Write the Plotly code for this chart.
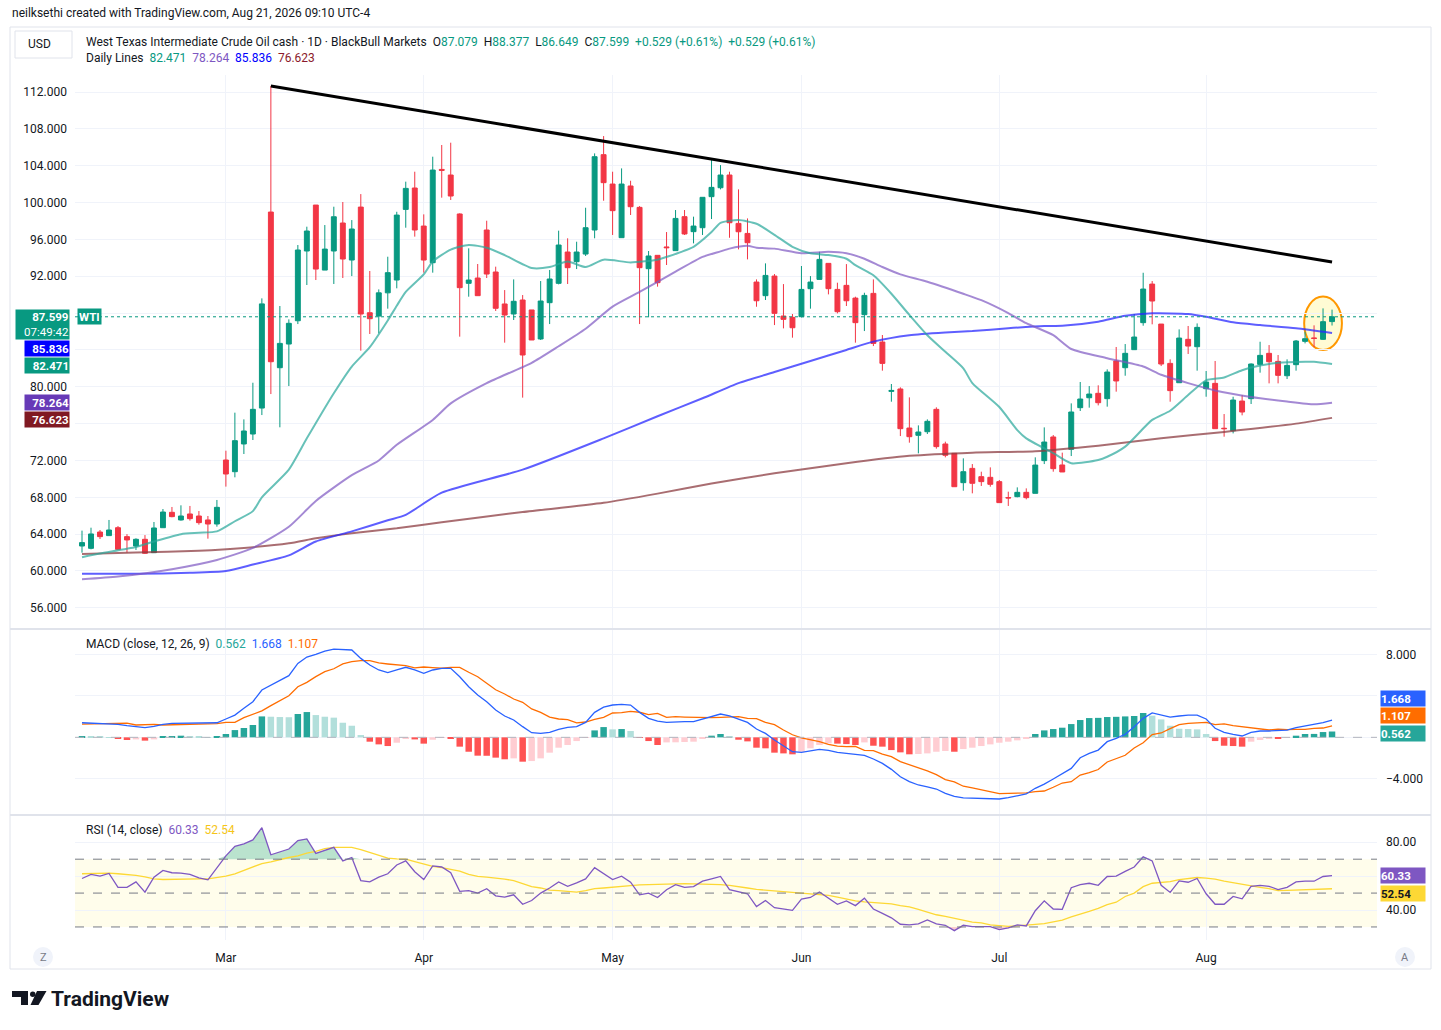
import pandas as pd
import plotly.graph_objects as go

W, H = 1441, 1030
FONT = "Roboto, 'Noto Sans', sans-serif"
TXT = "#131722"
GREEN = "#089981"
RED = "#F23645"
GRID = "#F0F3FA"

# ---------------- data ----------------
all_days = pd.bdate_range("2026-02-06", "2026-08-21")
holidays = [pd.Timestamp("2026-04-03")]
dates = [d for d in all_days if d not in holidays]
bar_idx = list(range(len(dates)))

opens = [62.71, 62.46, 64.23, 63.84, 64.70, 63.73, 62.71, 63.44, 61.99, 64.70,
         66.37, 65.54, 66.19, 65.97, 65.54, 65.10, 72.05, 70.78, 73.79, 74.87,
         77.69, 98.97, 82.07, 84.64, 87.17, 94.74, 99.73, 92.67, 94.74, 97.78,
         93.76, 99.51, 88.04, 87.68, 90.20, 91.59, 99.26, 101.58, 97.45, 93.47,
         103.60, 102.99, 98.76, 91.23, 91.81, 97.02, 92.46, 88.99, 87.90, 89.42,
         88.34, 85.19, 89.13, 91.23, 94.63, 93.58, 94.41, 97.02, 105.20, 102.01,
         96.19, 101.80, 99.48, 92.82, 94.27, 95.18, 94.78, 98.47, 96.84, 97.27,
         100.64, 101.61, 102.99, 97.74, 96.65, 91.37, 89.89, 92.02, 87.68, 87.54,
         87.61, 90.65, 91.66, 93.40, 90.57, 91.01, 89.63, 87.83, 90.14, 84.86,
         79.50, 79.76, 75.52, 74.73, 75.12, 77.55, 73.79, 72.77, 69.59, 71.14,
         70.24, 70.17, 69.70, 67.97, 68.07, 68.54, 68.43, 71.98, 74.55, 71.51,
         73.21, 77.73, 78.81, 79.29, 78.71, 82.80, 82.07, 84.03, 86.96, 91.15,
         86.81, 82.54, 80.44, 85.15, 84.35, 79.79, 80.37, 75.50, 75.23, 78.45,
         78.71, 82.43, 83.63, 82.76, 81.20, 82.40, 84.93, 85.30, 85.15, 87.079]
highs = [64.38, 64.70, 64.45, 65.54, 64.88, 64.00, 63.55, 63.90, 65.32, 66.73,
         66.95, 67.13, 67.06, 66.51, 65.97, 67.71, 73.06, 77.19, 76.46, 80.44,
         89.60, 112.65, 88.77, 87.32, 95.39, 97.38, 99.73, 97.56, 99.55, 100.06,
         98.10, 100.92, 92.57, 90.57, 94.12, 99.00, 102.27, 103.35, 98.72, 104.98,
         106.25, 106.50, 98.83, 95.03, 93.33, 98.03, 93.04, 90.50, 91.66, 89.96,
         88.34, 91.48, 92.68, 96.95, 96.12, 95.75, 99.44, 105.34, 107.22, 103.35,
         103.71, 102.37, 99.62, 94.74, 94.27, 96.80, 99.19, 99.19, 98.47, 100.57,
         104.62, 104.07, 103.35, 101.43, 98.28, 91.66, 93.40, 92.24, 91.15, 87.90,
         93.11, 92.02, 94.66, 93.40, 91.30, 93.32, 89.78, 90.21, 91.66, 85.62,
         80.30, 79.94, 78.85, 75.81, 76.46, 77.77, 74.04, 72.77, 72.23, 71.61,
         70.78, 71.25, 69.88, 68.61, 69.08, 68.97, 72.34, 75.59, 74.76, 72.85,
         78.20, 80.52, 80.08, 80.16, 81.89, 84.32, 84.64, 87.90, 92.38, 91.48,
         86.81, 82.98, 86.23, 86.60, 86.88, 81.71, 82.80, 77.04, 78.92, 79.10,
         82.54, 84.89, 84.53, 83.45, 82.98, 85.08, 85.98, 86.67, 88.51, 88.377]
lows = [61.99, 62.35, 63.47, 63.84, 62.28, 62.00, 62.28, 61.85, 61.99, 64.70,
        65.83, 65.47, 65.47, 65.03, 63.51, 64.81, 69.16, 70.17, 72.70, 74.22,
        76.93, 79.21, 75.60, 80.08, 86.81, 91.05, 91.59, 92.67, 91.16, 91.81,
        92.02, 83.92, 85.73, 85.80, 88.48, 90.69, 97.27, 96.30, 92.39, 92.39,
        100.53, 100.28, 85.44, 89.78, 89.89, 91.81, 88.23, 84.79, 87.25, 78.82,
        85.08, 85.08, 86.81, 91.12, 91.16, 92.78, 94.20, 96.12, 100.20, 96.48,
        96.19, 98.65, 86.81, 87.54, 90.87, 93.22, 94.78, 96.48, 95.57, 96.48,
        98.21, 101.43, 96.18, 94.92, 93.83, 88.69, 89.42, 86.70, 86.34, 85.33,
        87.54, 88.48, 91.66, 90.03, 87.97, 88.77, 84.79, 86.05, 84.42, 81.75,
        78.38, 74.65, 73.93, 72.77, 74.87, 73.28, 72.34, 69.15, 68.72, 68.43,
        69.23, 69.15, 67.42, 67.06, 68.00, 67.78, 68.43, 71.61, 70.78, 70.75,
        72.48, 77.37, 77.73, 77.98, 77.84, 79.47, 81.20, 83.99, 86.63, 86.78,
        82.25, 78.38, 80.44, 83.56, 81.75, 78.92, 75.45, 74.58, 74.94, 76.90,
        78.13, 81.53, 80.37, 80.37, 80.84, 81.75, 84.71, 84.28, 85.08, 86.649]
closes = [63.08, 64.02, 63.73, 64.45, 62.35, 63.37, 63.44, 61.92, 64.67, 66.40,
          65.90, 65.97, 65.68, 65.25, 65.10, 66.91, 70.53, 74.15, 75.20, 77.55,
          89.00, 82.72, 84.71, 86.89, 94.85, 96.91, 92.78, 94.95, 98.46, 93.87,
          97.13, 87.90, 87.39, 90.20, 92.39, 98.64, 101.54, 97.02, 93.76, 103.53,
          103.50, 100.71, 90.76, 91.59, 89.89, 92.24, 88.52, 87.79, 89.28, 83.45,
          85.08, 89.31, 91.70, 95.39, 92.93, 94.63, 97.27, 104.98, 102.16, 99.12,
          102.01, 99.55, 92.93, 94.20, 91.30, 95.10, 98.28, 96.59, 97.45, 100.57,
          101.65, 102.99, 97.81, 96.83, 95.64, 89.34, 92.09, 87.97, 87.32, 86.41,
          90.57, 91.37, 93.83, 90.65, 88.15, 89.34, 86.96, 89.92, 84.71, 82.54,
          79.60, 75.45, 74.58, 75.09, 76.25, 73.50, 72.56, 69.15, 70.78, 69.52,
          69.70, 69.41, 67.42, 67.93, 68.54, 67.96, 71.50, 74.00, 71.11, 70.75,
          77.26, 78.67, 79.21, 78.27, 81.60, 80.63, 83.63, 85.40, 90.61, 89.31,
          82.47, 79.58, 85.29, 84.42, 86.45, 80.52, 75.45, 75.45, 78.56, 77.26,
          82.47, 83.41, 82.72, 81.24, 82.32, 84.97, 85.22, 85.25, 87.07, 87.599]

# moving averages (bar index, value)
sma20_idx = [0, 2, 6, 8, 11, 13, 15, 17, 19, 20, 23, 25, 28, 30, 32, 34, 35, 36, 38, 39,
             41, 43, 45, 47, 50, 52, 54, 56, 58, 61, 64, 65, 68, 70, 71, 73, 75, 77, 79, 81,
             83, 85, 86, 88, 90, 92, 94, 96, 98, 99, 102, 104, 105, 108, 110, 113, 114, 116,
             119, 121, 123, 125, 127, 129, 131, 133, 136, 137, 139]
sma20_val = [61.5, 61.9, 62.6, 63.2, 64.0, 64.15, 64.3, 65.4, 66.5, 68.0, 71.0, 74.4, 79.3,
             82.2, 84.3, 87.2, 88.8, 90.3, 92.2, 93.6, 94.9, 95.4, 95.1, 94.3, 92.9, 93.0,
             93.6, 93.0, 93.8, 93.5, 93.8, 94.1, 95.2, 96.8, 97.8, 98.1, 97.7, 96.5, 95.2,
             94.5, 94.3, 93.9, 93.2, 92.1, 90.1, 87.8, 85.6, 83.8, 82.0, 80.4, 77.8, 75.3,
             74.4, 72.8, 71.7, 72.05, 72.4, 73.5, 76.4, 77.4, 79.1, 80.7, 81.0, 81.8, 82.3,
             82.6, 82.72, 82.72, 82.471]
sma50_idx = [0, 4, 10, 15, 19, 23, 26, 30, 33, 35, 39, 41, 45, 50, 53, 56, 59, 62, 66, 69,
             71, 72, 74, 75, 77, 80, 83, 85, 87, 89, 91, 94, 98, 100, 103, 105, 108, 110,
             114, 118, 120, 123, 126, 130, 134, 137, 139]
sma50_val = [59.1, 59.4, 60.2, 61.2, 62.5, 64.8, 67.6, 70.4, 72.0, 73.7, 76.4, 78.2, 80.4,
             82.6, 84.4, 86.3, 88.7, 90.3, 92.5, 94.1, 94.7, 95.0, 95.3, 95.1, 95.0, 94.5,
             94.66, 94.5, 93.9, 93.0, 92.2, 91.4, 90.1, 89.4, 88.0, 86.9, 85.6, 84.1, 83.1,
             82.2, 81.3, 80.4, 79.6, 78.9, 78.4, 78.1, 78.264]
sma100_idx = [0, 6, 12, 16, 19, 23, 26, 30, 34, 36, 40, 49, 58, 64, 69, 73, 77, 81, 85, 88,
              92, 96, 99, 103, 107, 109, 113, 116, 119, 123, 125, 128, 131, 135, 139]
sma100_val = [59.7, 59.7, 59.8, 60.0, 60.7, 61.7, 63.2, 64.3, 65.5, 66.1, 68.5, 71.0, 74.4,
              76.8, 78.75, 80.4, 81.6, 82.8, 84.0, 84.9, 85.6, 85.9, 86.05, 86.35, 86.6,
              86.63, 87.07, 87.7, 87.97, 87.9, 87.6, 87.0, 86.7, 86.35, 85.836]
sma200_idx = [0, 6, 13, 18, 23, 26, 30, 35, 40, 49, 58, 64, 70, 77, 85, 92, 99, 106, 113,
              120, 127, 135, 139]
sma200_val = [61.85, 62.0, 62.2, 62.5, 63.0, 63.55, 64.1, 64.64, 65.3, 66.4, 67.4, 68.4,
              69.5, 70.6, 71.7, 72.5, 72.85, 73.0, 73.6, 74.4, 75.1, 76.0, 76.623]

macd_line = [1.41, 1.38, 1.35, 1.35, 1.25, 1.12, 0.99, 0.93, 1.06, 1.25,
             1.35, 1.35, 1.35, 1.35, 1.35, 1.41, 1.77, 2.15, 2.80, 3.44,
             4.57, 5.05, 5.53, 5.95, 7.13, 7.75, 8.01, 8.33, 8.52, 8.49,
             8.43, 7.62, 6.98, 6.50, 6.24, 6.50, 6.76, 6.50, 6.18, 6.50,
             6.66, 6.66, 5.85, 4.89, 4.08, 3.44, 2.63, 2.06, 1.67, 1.03,
             0.45, 0.38, 0.48, 0.77, 0.96, 1.03, 1.44, 2.41, 2.92, 3.12,
             3.18, 3.12, 2.41, 1.83, 1.57, 1.44, 1.51, 1.51, 1.51, 1.77,
             2.06, 2.25, 2.06, 1.77, 1.44, 0.80, 0.38, -0.26, -0.84, -1.39,
             -1.45, -1.29, -1.16, -1.26, -1.45, -1.55, -1.61, -1.74, -2.09, -2.51,
             -3.09, -3.80, -4.28, -4.60, -4.79, -4.99, -5.40, -5.69, -5.85, -5.88,
             -5.92, -5.92, -5.95, -5.82, -5.66, -5.47, -4.92, -4.51, -4.02, -3.48,
             -3.00, -1.97, -1.55, -1.23, -0.42, -0.10, 0.29, 1.03, 1.83, 2.35,
             2.15, 1.96, 2.06, 2.15, 2.15, 1.77, 0.87, 0.48, 0.29, 0.13,
             0.48, 0.61, 0.61, 0.64, 0.70, 0.93, 1.09, 1.19, 1.41, 1.6684]
macd_hist = [0.13, 0.09, 0.06, 0.03, -0.13, -0.26, -0.20, -0.32, -0.20, 0.06,
             0.13, 0.16, 0.13, 0.06, 0.03, 0.09, 0.32, 0.70, 0.90, 1.19,
             2.02, 1.99, 1.96, 1.94, 2.25, 2.44, 2.15, 1.99, 1.90, 1.41,
             1.12, 0.22, -0.42, -0.68, -0.84, -0.52, -0.16, -0.20, -0.61, -0.23,
             -0.01, -0.10, -0.90, -1.39, -1.77, -1.78, -1.96, -2.12, -2.03, -2.35,
             -2.29, -2.03, -1.48, -1.00, -0.74, -0.36, -0.04, 0.67, 0.99, 0.77,
             0.80, 0.61, -0.01, -0.36, -0.74, -0.49, -0.48, -0.45, -0.42, -0.10,
             0.16, 0.32, 0.13, -0.23, -0.39, -1.00, -1.06, -1.48, -1.55, -1.64,
             -1.39, -1.06, -0.74, -0.58, -0.61, -0.65, -0.74, -0.49, -0.81, -0.90,
             -1.23, -1.45, -1.64, -1.61, -1.55, -1.39, -1.32, -1.39, -1.13, -1.00,
             -0.84, -0.68, -0.52, -0.42, -0.29, -0.10, 0.32, 0.67, 0.80, 0.93,
             1.28, 1.67, 1.86, 1.88, 1.96, 1.98, 2.02, 2.06, 2.35, 2.09,
             1.73, 1.12, 0.83, 0.80, 0.77, 0.32, -0.36, -0.81, -0.84, -0.90,
             -0.42, -0.26, -0.10, -0.16, -0.04, 0.16, 0.32, 0.33, 0.51, 0.5616]
macd_signal = [round(m - h, 4) for m, h in zip(macd_line, macd_hist)]

rsi = [58.6, 61.0, 60.0, 61.6, 53.4, 53.4, 56.6, 50.6, 59.4, 63.4,
       62.0, 61.8, 61.0, 59.0, 57.8, 64.6, 72.0, 77.6, 79.0, 81.4,
       88.6, 72.6, 74.2, 76.0, 81.0, 82.0, 73.4, 75.0, 77.0, 69.0,
       71.0, 57.4, 56.6, 59.4, 61.4, 66.6, 69.0, 62.6, 58.0, 66.0,
       65.4, 62.0, 51.0, 51.4, 50.0, 52.6, 48.4, 47.6, 49.0, 43.4,
       45.6, 50.0, 53.0, 56.6, 54.0, 56.0, 58.4, 65.0, 61.4, 58.0,
       60.0, 56.4, 49.0, 50.0, 47.4, 52.0, 55.0, 53.4, 53.8, 57.0,
       58.4, 59.8, 52.0, 51.0, 49.6, 42.0, 45.6, 41.4, 40.6, 39.8,
       46.4, 47.4, 50.6, 47.0, 43.4, 45.4, 42.6, 47.0, 40.6, 38.0,
       35.4, 31.6, 31.2, 31.8, 34.2, 31.8, 31.0, 27.8, 31.0, 30.2,
       30.4, 30.2, 28.4, 29.4, 31.2, 30.6, 39.6, 45.4, 40.6, 40.4,
       53.2, 55.0, 55.8, 54.6, 59.8, 60.0, 62.8, 65.4, 71.4, 69.0,
       54.6, 50.4, 57.2, 56.4, 58.6, 49.6, 43.4, 43.4, 48.0, 46.6,
       54.0, 54.6, 54.0, 52.0, 53.4, 56.6, 57.0, 57.0, 59.8, 60.33]
rsi_ma = [61.4, 61.6, 61.8, 61.8, 61.4, 61.0, 60.4, 59.6, 58.4, 58.0,
          58.2, 58.4, 58.4, 58.4, 58.4, 59.0, 60.0, 61.4, 63.4, 65.4,
          67.4, 68.4, 69.8, 71.0, 72.0, 73.6, 74.6, 76.2, 77.0, 77.0,
          77.0, 75.6, 74.0, 72.2, 70.6, 70.2, 70.0, 68.6, 67.0, 65.8,
          65.0, 63.8, 63.0, 61.0, 59.8, 59.4, 59.0, 58.2, 57.4, 55.4,
          53.8, 53.0, 51.8, 51.4, 50.8, 50.6, 51.4, 52.6, 53.0, 53.6,
          54.0, 54.4, 54.8, 55.0, 55.2, 55.4, 55.6, 55.6, 55.4, 55.4,
          55.2, 55.0, 54.6, 54.0, 53.0, 52.2, 51.8, 51.4, 51.0, 50.4,
          49.8, 49.6, 49.0, 48.6, 47.6, 46.4, 45.4, 44.8, 44.4, 44.0,
          43.6, 42.6, 41.8, 40.4, 38.8, 37.2, 36.2, 35.0, 33.8, 32.8,
          32.4, 31.2, 30.8, 30.4, 30.6, 31.0, 31.4, 32.0, 33.0, 34.0,
          36.0, 37.4, 39.2, 41.0, 43.2, 44.6, 48.0, 50.0, 53.8, 55.8,
          56.2, 56.8, 58.0, 58.4, 59.2, 58.8, 58.2, 57.0, 56.0, 55.2,
          54.4, 53.4, 52.6, 51.4, 51.6, 51.8, 51.8, 52.0, 52.2, 52.54]

trend_idx = [21, 139]
trend_val = [112.65, 93.55]
highlight_idx = [135.9, 140.1]
highlight_val = [84.0, 89.8]

price_ticks = list(range(56, 113, 4))
hidden_price_ticks = [76, 84, 88]  # covered by value tags in the original
month_ticks = [i for i in range(1, len(dates)) if dates[i].month != dates[i - 1].month]
month_names = [dates[i].strftime("%b") for i in month_ticks]

# ---------------- helpers ----------------
def fx(px):
    return px / W


def fy(py):
    return 1 - py / H


def hist_colors(h):
    cols = []
    for i, v in enumerate(h):
        prev = h[i - 1] if i > 0 else v
        if v >= 0:
            cols.append("#26A69A" if v >= prev else "#B2DFDB")
        else:
            cols.append("#FFCDD2" if v > prev else "#FF5252")
    return cols


fig = go.Figure()

# ---------------- price panel ----------------
fig.add_trace(go.Candlestick(
    x=bar_idx, open=opens, high=highs, low=lows, close=closes,
    increasing=dict(line=dict(color=GREEN, width=1), fillcolor=GREEN),
    decreasing=dict(line=dict(color=RED, width=1), fillcolor=RED),
    whiskerwidth=0, xaxis="x", yaxis="y", hoverinfo="skip"))

for idx_, val_, col in [(sma200_idx, sma200_val, "rgba(140,60,66,0.75)"),
                        (sma100_idx, sma100_val, "rgba(40,40,255,0.75)"),
                        (sma50_idx, sma50_val, "rgba(126,87,194,0.7)"),
                        (sma20_idx, sma20_val, "rgba(38,166,154,0.7)")]:
    fig.add_trace(go.Scatter(x=idx_, y=val_, mode="lines",
                             line=dict(color=col, width=2, shape="spline", smoothing=0.6),
                             xaxis="x", yaxis="y", hoverinfo="skip"))

# ---------------- MACD panel ----------------
fig.add_trace(go.Bar(x=bar_idx, y=macd_hist, marker=dict(color=hist_colors(macd_hist), line=dict(width=0)),
                     width=0.72, xaxis="x2", yaxis="y2", hoverinfo="skip"))
fig.add_trace(go.Scatter(x=bar_idx, y=macd_signal, mode="lines", line=dict(color="#FF6D00", width=1.3),
                         xaxis="x2", yaxis="y2", hoverinfo="skip"))
fig.add_trace(go.Scatter(x=bar_idx, y=macd_line, mode="lines", line=dict(color="#2962FF", width=1.3),
                         xaxis="x2", yaxis="y2", hoverinfo="skip"))

# ---------------- RSI panel ----------------
rsi_hi = [max(v, 70) for v in rsi]
rsi_lo = [min(v, 30) for v in rsi]
fig.add_trace(go.Scatter(x=bar_idx, y=[70] * len(rsi), mode="lines", line=dict(width=0),
                         xaxis="x3", yaxis="y3", hoverinfo="skip"))
fig.add_trace(go.Scatter(x=bar_idx, y=rsi_hi, mode="lines", line=dict(width=0), fill="tonexty",
                         fillcolor="rgba(8,153,80,0.28)", xaxis="x3", yaxis="y3", hoverinfo="skip"))
fig.add_trace(go.Scatter(x=bar_idx, y=[30] * len(rsi), mode="lines", line=dict(width=0),
                         xaxis="x3", yaxis="y3", hoverinfo="skip"))
fig.add_trace(go.Scatter(x=bar_idx, y=rsi_lo, mode="lines", line=dict(width=0), fill="tonexty",
                         fillcolor="rgba(242,54,69,0.25)", xaxis="x3", yaxis="y3", hoverinfo="skip"))
fig.add_trace(go.Scatter(x=bar_idx, y=rsi_ma, mode="lines", line=dict(color="#FDD835", width=1.3),
                         xaxis="x3", yaxis="y3", hoverinfo="skip"))
fig.add_trace(go.Scatter(x=bar_idx, y=rsi, mode="lines", line=dict(color="#7E57C2", width=1.3),
                         xaxis="x3", yaxis="y3", hoverinfo="skip"))

# ---------------- axes ----------------
xr = [-0.78, 144.0]
xdom = [fx(75), fx(1377)]
xcommon = dict(domain=xdom, range=xr, tickvals=month_ticks, ticktext=month_names,
               showgrid=True, gridcolor=GRID, gridwidth=1, zeroline=False, showline=False,
               ticks="", fixedrange=True)
axfont = dict(family=FONT, size=12, color=TXT)

layout = dict(
    width=W, height=H, margin=dict(l=0, r=0, t=0, b=0),
    paper_bgcolor="white", plot_bgcolor="white", showlegend=False, boxgap=0.22,
    font=dict(family=FONT, size=12, color=TXT),
    xaxis=dict(**xcommon, anchor="y", showticklabels=False, rangeslider=dict(visible=False)),
    xaxis2=dict(**xcommon, anchor="y2", showticklabels=False, matches="x"),
    xaxis3=dict(**xcommon, anchor="y3", showticklabels=True, matches="x",
                tickfont=axfont, ticklabelstandoff=9),
    yaxis=dict(domain=[fy(628), fy(75)], range=[53.81, 113.85], side="left", anchor="x",
               tickvals=price_ticks,
               ticktext=["" if v in hidden_price_ticks else f"{v:.3f}" for v in price_ticks],
               showgrid=True, gridcolor=GRID, zeroline=False, ticks="", tickfont=axfont,
               ticklabelstandoff=7, fixedrange=True),
    yaxis2=dict(domain=[fy(814), fy(630)], range=[-7.4, 10.36], side="right", anchor="x2",
                tickvals=[-4, 0, 4, 8], ticktext=["\u22124.000", "", "", "8.000"],
                showgrid=True, gridcolor=GRID, zeroline=False, ticks="", tickfont=axfont,
                ticklabelstandoff=8, fixedrange=True),
    yaxis3=dict(domain=[fy(940), fy(816)], range=[22.3, 95.5], side="right", anchor="x3",
                tickvals=[40, 60, 80], ticktext=["40.00", "", "80.00"],
                showgrid=True, gridcolor=GRID, zeroline=False, ticks="", tickfont=axfont,
                ticklabelstandoff=8, fixedrange=True),
)
fig.update_layout(**layout)

# ---------------- shapes ----------------
shapes = []
shapes.append(dict(type="rect", xref="paper", yref="paper", x0=fx(10), x1=fx(1431), y0=fy(969), y1=fy(27),
                   line=dict(color="#E0E3EB", width=1), layer="below"))
for sep in (629, 815):
    shapes.append(dict(type="line", xref="paper", yref="paper", x0=fx(10), x1=fx(1431), y0=fy(sep), y1=fy(sep),
                       line=dict(color="#E0E3EB", width=2)))
shapes.append(dict(type="rect", xref="x3 domain", yref="y3", x0=0, x1=1, y0=30, y1=70,
                   fillcolor="rgba(255,235,59,0.10)", line=dict(width=0), layer="below"))
for lvl in (70, 50, 30):
    shapes.append(dict(type="line", xref="x3 domain", yref="y3", x0=0, x1=1, y0=lvl, y1=lvl,
                       line=dict(color="#787B86", width=1, dash="dash")))
shapes.append(dict(type="line", xref="x2 domain", yref="y2", x0=0, x1=1, y0=0, y1=0,
                   line=dict(color="#B2B5BE", width=1, dash="dash")))
shapes.append(dict(type="line", xref="x domain", yref="y", x0=0, x1=1, y0=closes[-1], y1=closes[-1],
                   line=dict(color=GREEN, width=1, dash="dot")))
shapes.append(dict(type="line", xref="x", yref="y", x0=trend_idx[0], x1=trend_idx[1],
                   y0=trend_val[0], y1=trend_val[1], line=dict(color="#000000", width=3)))
shapes.append(dict(type="circle", xref="x", yref="y", x0=highlight_idx[0], x1=highlight_idx[1],
                   y0=highlight_val[0], y1=highlight_val[1], fillcolor="rgba(255,235,59,0.22)",
                   line=dict(color="#FF9800", width=2), layer="below"))
shapes.append(dict(type="rect", xref="paper", yref="paper", x0=fx(15), x1=fx(72), y0=fy(58), y1=fy(31),
                   line=dict(color="#E0E3EB", width=1), fillcolor="white"))
for cx in (43, 1405):
    shapes.append(dict(type="circle", xref="paper", yref="paper", x0=fx(cx - 10), x1=fx(cx + 10),
                       y0=fy(967), y1=fy(947), fillcolor="#F0F3FA", line=dict(width=0)))


def ppath(pts):
    return "M " + " L ".join(f"{fx(px):.5f},{fy(py):.5f}" for px, py in pts) + " Z"


shapes.append(dict(type="path", xref="paper", yref="paper",
                   path=ppath([(12, 991), (28, 991), (28, 1005), (21, 1005), (21, 997), (12, 997)]),
                   fillcolor="#131722", line=dict(width=0)))
shapes.append(dict(type="circle", xref="paper", yref="paper", x0=fx(30), x1=fx(35.5), y0=fy(997), y1=fy(991.5),
                   fillcolor="#131722", line=dict(width=0)))
shapes.append(dict(type="path", xref="paper", yref="paper",
                   path=ppath([(37, 991), (46.5, 991), (38.5, 1005), (30.5, 1005)]),
                   fillcolor="#131722", line=dict(width=0)))
fig.update_layout(shapes=shapes)

# ---------------- annotations ----------------
ann = []


def text(x, y, t, size=12, color=TXT, xanchor="left", **kw):
    ann.append(dict(xref="paper", yref="paper", x=fx(x), y=fy(y), text=t, showarrow=False,
                    xanchor=xanchor, yanchor="middle", font=dict(family=FONT, size=size, color=color), **kw))


text(10, 13, "neilksethi created with TradingView.com, Aug 21, 2026 09:10 UTC-4", size=12)
text(26, 44, "USD", size=12)


def g(v):
    return f"<span style='color:{GREEN}'>{v}</span>"


chg = closes[-1] - closes[-2]
pct = chg / closes[-2] * 100
hdr = ("West Texas Intermediate Crude Oil cash \u00b7 1D \u00b7 BlackBull Markets  "
       f"O{g(f'{opens[-1]:.3f}')}  H{g(f'{highs[-1]:.3f}')}  L{g(f'{lows[-1]:.3f}')}  "
       f"C{g(f'{closes[-1]:.3f}')}  {g(f'+{chg:.3f} (+{pct:.2f}%)')}  {g(f'+{chg:.3f} (+{pct:.2f}%)')}")
text(84, 42, hdr, size=12)
text(84, 58, "Daily Lines  "
     f"<span style='color:#089981'>{sma20_val[-1]:.3f}</span>  "
     f"<span style='color:#7E57C2'>{sma50_val[-1]:.3f}</span>  "
     f"<span style='color:#0000FF'>{sma100_val[-1]:.3f}</span>  "
     f"<span style='color:#8B1A2B'>{sma200_val[-1]:.3f}</span>", size=12)
text(84, 644, "MACD (close, 12, 26, 9)  "
     f"<span style='color:#26A69A'>{macd_hist[-1]:.3f}</span>  "
     f"<span style='color:#2962FF'>{macd_line[-1]:.3f}</span>  "
     f"<span style='color:#FF6D00'>{macd_signal[-1]:.3f}</span>", size=12)
text(84, 830, "RSI (14, close)  "
     f"<span style='color:#7E57C2'>{rsi[-1]:.2f}</span>  "
     f"<span style='color:#F5C518'>{rsi_ma[-1]:.2f}</span>", size=12)


def tag(xpx, yref, yval, label, bg, fg="white", xanchor="right", yshift=0, width=44, height=15):
    ann.append(dict(xref="paper", yref=yref, x=fx(xpx), y=yval, text=label, showarrow=False,
                    xanchor=xanchor, yanchor="middle", yshift=yshift, bgcolor=bg, width=width,
                    height=height, valign="middle",
                    align="right" if xanchor == "right" else "left", borderpad=0,
                    font=dict(family=FONT, size=11.5, color=fg)))


tag(70, "y", closes[-1], f"<b>{closes[-1]:.3f}</b><br>07:49:42", GREEN, width=53, height=29, yshift=-8)
ann.append(dict(xref="paper", yref="y", x=fx(77), y=closes[-1], text="<b>WTI</b>", showarrow=False,
                xanchor="left", yanchor="middle", bgcolor=GREEN, borderpad=1, height=13,
                font=dict(family=FONT, size=11.5, color="white")))
tag(70, "y", sma100_val[-1], f"<b>{sma100_val[-1]:.3f}</b>", "#0000FF", yshift=-15)
tag(70, "y", sma20_val[-1], f"<b>{sma20_val[-1]:.3f}</b>", GREEN, yshift=-1)
tag(70, "y", sma50_val[-1], f"<b>{sma50_val[-1]:.3f}</b>", "#673AB7", yshift=0)
tag(70, "y", sma200_val[-1], f"<b>{sma200_val[-1]:.3f}</b>", "#801922", yshift=-2)

tag(1380, "y2", macd_line[-1], f"<b>{macd_line[-1]:.3f}</b>", "#2962FF", xanchor="left", yshift=22)
tag(1380, "y2", macd_signal[-1], f"<b>{macd_signal[-1]:.3f}</b>", "#FF6D00", xanchor="left", yshift=10)
tag(1380, "y2", macd_hist[-1], f"<b>{macd_hist[-1]:.3f}</b>", "#26A69A", xanchor="left", yshift=-1.5)
tag(1380, "y3", rsi[-1], f"<b>{rsi[-1]:.2f}</b>", "#7E57C2", xanchor="left", yshift=0)
tag(1380, "y3", rsi_ma[-1], f"<b>{rsi_ma[-1]:.2f}</b>", "#FDD835", fg=TXT, xanchor="left", yshift=-5)

text(43, 957, "Z", size=11, color="#787B86", xanchor="center")
text(1405, 957, "A", size=11, color="#787B86", xanchor="center")
text(49, 999, "<b>TradingView</b>", size=21, color="#131722")

fig.update_layout(annotations=ann)

fig.write_html("out.html", config={"displayModeBar": False},
               post_script="document.body.style.margin='0px';document.body.style.overflow='hidden';")
